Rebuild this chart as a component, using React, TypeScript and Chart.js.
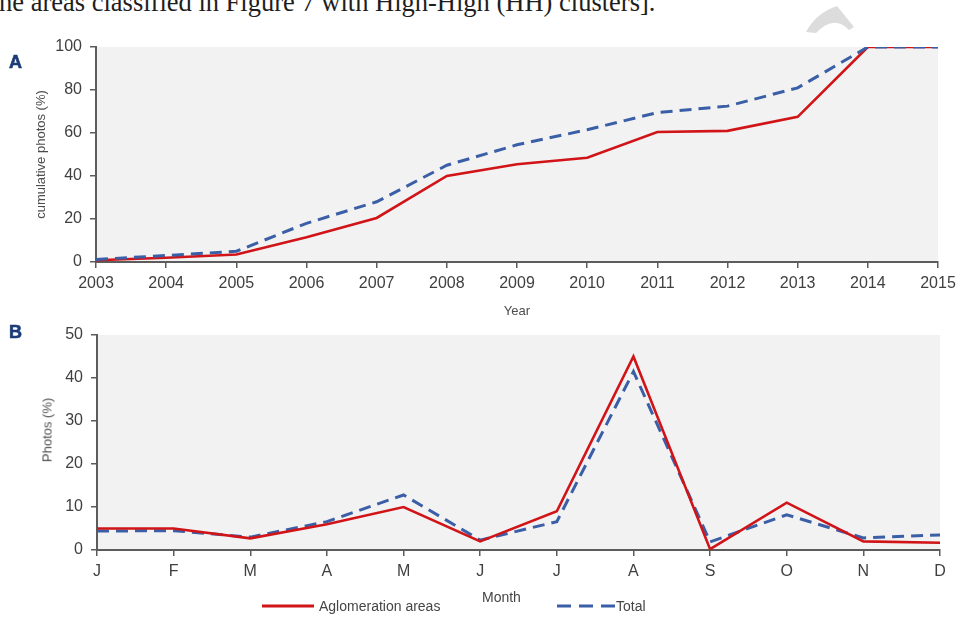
import React, { useEffect, useRef } from 'react';
import { Chart, registerables } from 'chart.js';

Chart.register(...registerables);

// Panel A: cumulative share of photos per year (%)
const years = ['2003', '2004', '2005', '2006', '2007', '2008', '2009', '2010', '2011', '2012', '2013', '2014', '2015'];
const aglomerationCumulative = [0.8, 2, 3.5, 11.5, 20.5, 40, 45.5, 48.5, 60.5, 61, 67.5, 100, 100];
const totalCumulative = [1.2, 3, 5, 18, 28, 45, 54.5, 61.5, 69.5, 72.5, 81, 100, 100];
const cumulativeTicks = [0, 20, 40, 60, 80, 100];

// Panel B: share of photos per month (%)
const months = ['J', 'F', 'M', 'A', 'M', 'J', 'J', 'A', 'S', 'O', 'N', 'D'];
const aglomerationMonthly = [5, 5, 2.7, 6, 10, 2, 9, 45, 0.2, 11, 2, 1.7];
const totalMonthly = [4.4, 4.5, 3, 6.6, 12.8, 2.3, 6.6, 41.5, 1.9, 8.2, 2.8, 3.5];
const monthlyTicks = [0, 10, 20, 30, 40, 50];

const RED = '#d01418';
const BLUE = '#3b5fa6';
const AXIS = '#5c5c5c';
const TICK_TEXT = '#404040';
const TITLE_TEXT = '#4d4d4d';
const SANS = '"Liberation Sans", Arial, sans-serif';

const plotBackground = {
  id: 'plotBackground',
  beforeDraw(chart: any) {
    const { ctx, chartArea } = chart;
    if (!chartArea) return;
    ctx.save();
    ctx.fillStyle = '#f2f2f2';
    ctx.fillRect(chartArea.left, chartArea.top, chartArea.right - chartArea.left, chartArea.bottom - chartArea.top);
    ctx.restore();
  },
};

const axisGrid = { drawOnChartArea: false, drawTicks: true, tickLength: 6, color: AXIS, lineWidth: 1.5 };
const axisBorder = { color: AXIS, width: 2 };
const tickFont = { family: SANS, size: 16 };

function fixedTicks(values: number[]) {
  return (scale: any) => {
    scale.ticks = values.map((v) => ({ value: v }));
  };
}

function makeCumulativeChart(canvas: HTMLCanvasElement) {
  return new Chart(canvas, {
    type: 'line',
    data: {
      labels: years,
      datasets: [
        {
          label: 'Aglomeration areas',
          data: aglomerationCumulative,
          borderColor: RED,
          backgroundColor: RED,
          borderWidth: 2.6,
          pointRadius: 0,
          tension: 0,
          order: 1,
        },
        {
          label: 'Total',
          data: totalCumulative,
          borderColor: BLUE,
          backgroundColor: BLUE,
          borderWidth: 3,
          borderDash: [12, 7],
          pointRadius: 0,
          tension: 0,
          order: 0,
        },
      ],
    },
    options: {
      animation: false,
      responsive: false,
      maintainAspectRatio: false,
      layout: { padding: { left: 0, top: 47, right: 28, bottom: 8 } },
      plugins: { legend: { display: false }, tooltip: { enabled: false } },
      scales: {
        x: {
          type: 'category',
          offset: false,
          grid: axisGrid,
          border: axisBorder,
          ticks: { font: tickFont, color: TICK_TEXT, padding: 6, maxRotation: 0, autoSkip: false },
          title: {
            display: true,
            text: 'Year',
            font: { family: SANS, size: 13 },
            color: TITLE_TEXT,
            padding: { top: 0, bottom: 2.5 },
          },
          afterFit: (s: any) => {
            s.height = 60;
          },
        },
        y: {
          min: 0,
          max: 100,
          grid: axisGrid,
          border: axisBorder,
          ticks: { font: tickFont, color: TICK_TEXT, padding: 8 },
          afterBuildTicks: fixedTicks(cumulativeTicks),
          title: {
            display: true,
            text: 'cumulative photos (%)',
            font: { family: SANS, size: 13 },
            color: TITLE_TEXT,
            padding: { top: 34, bottom: 0 },
          },
          afterFit: (s: any) => {
            s.width = 96;
          },
        },
      },
    } as any,
    plugins: [plotBackground],
  });
}

function makeMonthlyChart(canvas: HTMLCanvasElement) {
  return new Chart(canvas, {
    type: 'line',
    data: {
      labels: months,
      datasets: [
        {
          label: 'Aglomeration areas',
          data: aglomerationMonthly,
          borderColor: RED,
          backgroundColor: RED,
          borderWidth: 2.6,
          pointRadius: 0,
          tension: 0,
          order: 0,
        },
        {
          label: 'Total',
          data: totalMonthly,
          borderColor: BLUE,
          backgroundColor: BLUE,
          borderWidth: 3,
          borderDash: [12, 7],
          pointRadius: 0,
          tension: 0,
          order: 1,
        },
      ],
    },
    options: {
      animation: false,
      responsive: false,
      maintainAspectRatio: false,
      layout: { padding: { left: 0, top: 35, right: 26, bottom: 27 } },
      plugins: { legend: { display: false }, tooltip: { enabled: false } },
      scales: {
        x: {
          type: 'category',
          offset: false,
          grid: axisGrid,
          border: axisBorder,
          ticks: { font: tickFont, color: TICK_TEXT, padding: 6, maxRotation: 0, autoSkip: false },
          afterFit: (s: any) => {
            s.height = 40;
          },
        },
        y: {
          min: 0,
          max: 50,
          grid: axisGrid,
          border: axisBorder,
          ticks: { font: tickFont, color: TICK_TEXT, padding: 8 },
          afterBuildTicks: fixedTicks(monthlyTicks),
          afterFit: (s: any) => {
            s.width = 97;
          },
        },
      },
    } as any,
    plugins: [plotBackground],
  });
}

const panelLetter: React.CSSProperties = {
  position: 'absolute',
  left: 9,
  fontFamily: SANS,
  fontWeight: 700,
  fontSize: 18,
  lineHeight: '18px',
  color: '#1c3c78',
  WebkitTextStroke: '0.6px #1c3c78',
};

const legendText: React.CSSProperties = {
  position: 'absolute',
  fontFamily: SANS,
  fontSize: 14,
  lineHeight: '16px',
  color: '#454545',
  whiteSpace: 'nowrap',
};

export default function App() {
  const cumulativeRef = useRef<HTMLCanvasElement | null>(null);
  const monthlyRef = useRef<HTMLCanvasElement | null>(null);

  useEffect(() => {
    const a = makeCumulativeChart(cumulativeRef.current!);
    const b = makeMonthlyChart(monthlyRef.current!);
    return () => {
      a.destroy();
      b.destroy();
    };
  }, []);

  return (
    <div
      style={{
        position: 'fixed',
        left: 0,
        top: 0,
        width: 966,
        height: 617,
        background: '#ffffff',
        overflow: 'hidden',
      }}
    >
      <div
        style={{
          position: 'absolute',
          left: 0,
          top: -11,
          fontFamily: '"Liberation Serif", "DejaVu Serif", serif',
          fontSize: 26.5,
          lineHeight: '26px',
          color: '#1e1e1e',
          whiteSpace: 'nowrap',
          marginLeft: -1,
        }}
      >
        he areas classified in Figure 7 with High-High (HH) clusters].
      </div>

      <svg width={966} height={617} style={{ position: 'absolute', left: 0, top: 0 }}>
        <path d="M806 32 Q816 13 837 6 L854 27 L849 30 Q834 14 816 33 Z" fill="#dcdcdc" />
        <line x1={262} y1={606} x2={314} y2={606} stroke={RED} strokeWidth={3} />
        <line x1={557} y1={606} x2={615} y2={606} stroke={BLUE} strokeWidth={3} strokeDasharray="14 8" />
      </svg>

      <canvas
        ref={cumulativeRef}
        width={966}
        height={330}
        style={{ position: 'absolute', left: 0, top: 0, width: 966, height: 330 }}
      />
      <canvas
        ref={monthlyRef}
        width={966}
        height={317}
        style={{ position: 'absolute', left: 0, top: 300, width: 966, height: 317 }}
      />

      <div style={{ ...panelLetter, top: 53 }}>A</div>
      <div style={{ ...panelLetter, top: 323 }}>B</div>

      <div
        style={{
          position: 'absolute',
          left: 47,
          top: 430,
          transform: 'translate(-50%, -50%) rotate(-90deg)',
          fontFamily: SANS,
          fontSize: 13,
          lineHeight: '15px',
          color: TITLE_TEXT,
          whiteSpace: 'nowrap',
        }}
      >
        Photos (%)
      </div>

      <div style={{ ...legendText, left: 319, top: 598 }}>Aglomeration areas</div>
      <div style={{ ...legendText, left: 482, top: 589 }}>Month</div>
      <div style={{ ...legendText, left: 616, top: 598 }}>Total</div>
    </div>
  );
}
